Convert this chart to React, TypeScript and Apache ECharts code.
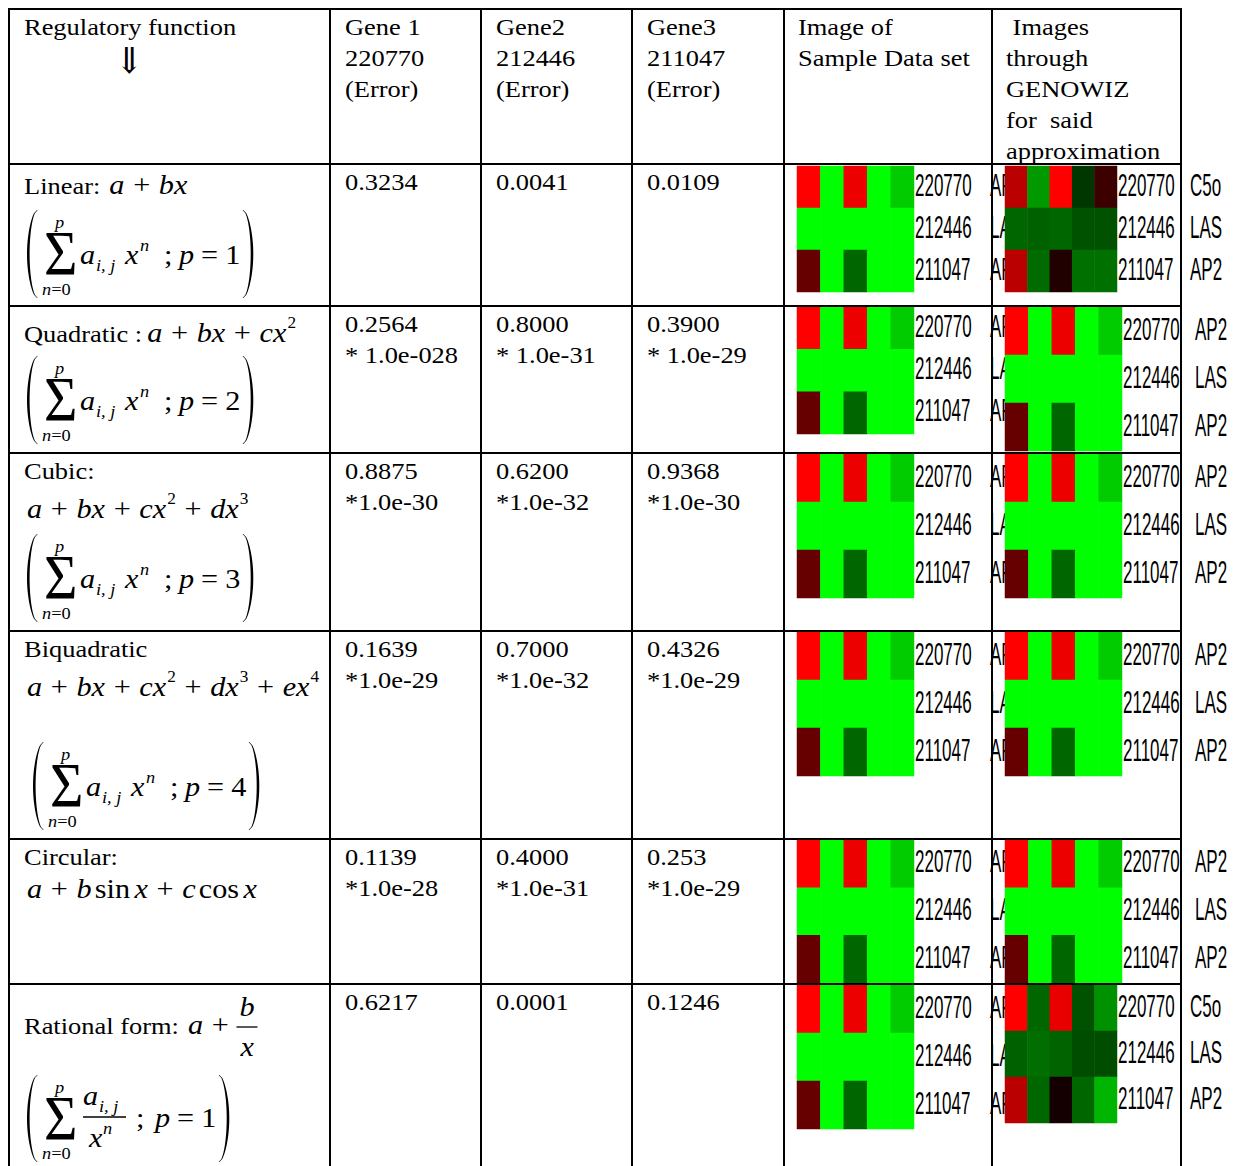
import React, { useEffect, useRef } from "react";
import * as echarts from "echarts";

// ---------------- data ----------------
const sampleLabels = ["s1", "s2", "s3", "s4", "s5"];
const geneIds = ["220770", "212446", "211047"];
const geneNames = ["AP2", "LAS", "AP2"];
const geneNamesDiffer = ["C5o", "LAS", "AP2"];

const headerFunction = "Regulatory function";
const headerGene1 = ["Gene 1", "220770", "(Error)"];
const headerGene2 = ["Gene2", "212446", "(Error)"];
const headerGene3 = ["Gene3", "211047", "(Error)"];
const headerSample = ["Image of", "Sample Data set"];
const headerGenowiz = [" Images", "through", "GENOWIZ", "for  said", "approximation"];

const functionNames = ["Linear:", "Quadratic :", "Cubic:", "Biquadratic", "Circular:", "Rational form:"];
const polyDegree = [1, 2, 3, 4];

const gene1Error = ["0.3234", "0.2564", "0.8875", "0.1639", "0.1139", "0.6217"];
const gene1Scale = ["", "* 1.0e-028", "*1.0e-30", "*1.0e-29", "*1.0e-28", ""];
const gene2Error = ["0.0041", "0.8000", "0.6200", "0.7000", "0.4000", "0.0001"];
const gene2Scale = ["", "* 1.0e-31", "*1.0e-32", "*1.0e-32", "*1.0e-31", ""];
const gene3Error = ["0.0109", "0.3900", "0.9368", "0.4326", "0.253", "0.1246"];
const gene3Scale = ["", "* 1.0e-29", "*1.0e-30", "*1.0e-29", "*1.0e-29", ""];

// expression levels: +1 = full red, 0 = black, -1 = full green
const sampleExpr = [
  [1.0, -1.0, 0.93, -1.0, -0.8],
  [-1.0, -1.0, -1.0, -1.0, -1.0],
  [0.4, -1.0, -0.4, -1.0, -1.0],
];
const genowizLinear = [
  [0.73, -0.6, 1.0, -0.21, 0.24],
  [-0.4, -0.38, -0.4, -0.32, -0.32],
  [0.73, -0.42, 0.13, -0.44, -0.44],
];
const genowizQuadratic = [
  [1.0, -1.0, 0.93, -1.0, -0.8],
  [-1.0, -1.0, -1.0, -1.0, -1.0],
  [0.4, -1.0, -0.4, -1.0, -1.0],
];
const genowizCubic = [
  [1.0, -1.0, 0.93, -1.0, -0.8],
  [-1.0, -1.0, -1.0, -1.0, -1.0],
  [0.4, -1.0, -0.4, -1.0, -1.0],
];
const genowizBiquadratic = [
  [1.0, -1.0, 0.93, -1.0, -0.8],
  [-1.0, -1.0, -1.0, -1.0, -1.0],
  [0.4, -1.0, -0.4, -1.0, -1.0],
];
const genowizCircular = [
  [1.0, -1.0, 0.93, -1.0, -0.8],
  [-1.0, -1.0, -1.0, -1.0, -1.0],
  [0.4, -1.0, -0.4, -1.0, -1.0],
];
const genowizRational = [
  [1.0, -0.4, 0.91, -0.32, -0.57],
  [-0.38, -0.43, -0.39, -0.3, -0.3],
  [0.73, -0.4, 0.08, -0.4, -0.71],
];
const genowizImages = [genowizLinear, genowizQuadratic, genowizCubic, genowizBiquadratic, genowizCircular, genowizRational];
const genowizNames = [geneNamesDiffer, geneNames, geneNames, geneNames, geneNames, geneNamesDiffer];

// ---------------- layout ----------------
const COL_X = [9, 330, 481, 632, 784, 992, 1181];
const ROW_Y = [9, 164, 306, 453, 631, 839, 984];
const TEXT_X = [24, 345, 496, 647, 798, 1006];
const SAMPLE_BOX = [
  [797, 166, 117, 126],
  [797, 307, 117, 127],
  [797, 454, 117, 144],
  [797, 632, 117, 144],
  [797, 840, 117, 143],
  [797, 985, 117, 144],
];
const GENOWIZ_BOX = [
  [1005, 166, 112, 126],
  [1005, 307, 117, 144],
  [1005, 454, 117, 144],
  [1005, 632, 117, 144],
  [1005, 840, 117, 143],
  [1005, 985, 112, 138],
];

const FS = 23; // body font size
const SX = 1.15; // body text horizontal stretch
const MX = 1.08; // math horizontal stretch
const MS = 28; // math font size
const SERIF = '"Liberation Serif", "Times New Roman", "DejaVu Serif", serif';
const LABEL_FONT = '"Liberation Sans", Arial, sans-serif';

let mctx: CanvasRenderingContext2D | null = null;
function tw(t: string, size: number, italic = false, family = SERIF) {
  if (!mctx) mctx = document.createElement("canvas").getContext("2d");
  mctx!.font = `${italic ? "italic " : ""}${size}px ${family}`;
  return mctx!.measureText(t).width;
}

type Tok = { t: string; k: "i" | "r" | "op" | "sup" | "sp" };
const I = (t: string): Tok => ({ t, k: "i" });
const R = (t: string): Tok => ({ t, k: "r" });
const OP = (t: string): Tok => ({ t, k: "op" });
const SUP = (t: string): Tok => ({ t, k: "sup" });
const SP = (t: string): Tok => ({ t, k: "sp" });

function buildGraphics() {
  const els: any[] = [];
  const T = (x: number, B: number, t: string, size = FS, italic = false, opt: any = {}) => {
    const sx = opt.sx ?? SX;
    const sy = opt.sy ?? 1;
    const fam = opt.family ?? SERIF;
    els.push({
      type: "text",
      x,
      y: B - 0.3375 * size * sy,
      scaleX: sx,
      scaleY: sy,
      z: opt.z ?? 5,
      silent: true,
      style: {
        text: t,
        fontFamily: fam,
        fontSize: size,
        fontStyle: italic ? "italic" : "normal",
        fill: "#000",
        align: opt.align ?? "left",
        verticalAlign: "middle",
      },
    });
    return tw(t, size, italic, fam) * sx;
  };
  const M = (x: number, B: number, t: string, size = MS, italic = true) => T(x, B, t, size, italic, { sx: MX });
  // plain text with preserved spaces
  const P = (x: number, B: number, line: string, size = FS) => {
    let cx = x;
    const sp = tw(" ", size) * SX;
    const parts = line.split(" ");
    parts.forEach((w, idx) => {
      if (w.length) cx += T(cx, B, w, size);
      if (idx < parts.length - 1) cx += sp;
    });
    return cx - x;
  };
  const flow = (x: number, B: number, toks: Tok[]) => {
    let cx = x;
    for (const tk of toks) {
      if (tk.k === "i") cx += M(cx, B, tk.t);
      else if (tk.k === "r") cx += M(cx, B, tk.t, MS, false);
      else if (tk.k === "op") {
        cx += 8 * MX;
        cx += M(cx, B, tk.t, MS, false);
        cx += 8 * MX;
      } else if (tk.k === "sup") {
        cx += 1;
        cx += M(cx, B - 14, tk.t, 16, false);
      } else if (tk.k === "sp") cx += Number(tk.t) * MX;
    }
    return cx;
  };
  const paren = (xEdge: number, top: number, bottom: number, depth: number, left: boolean) => {
    const outer: number[][] = [];
    const inner: number[][] = [];
    const N = 28;
    for (let i = 0; i <= N; i++) {
      const t = i / N;
      const y = top + (bottom - top) * t;
      const b = Math.pow(Math.sin(Math.PI * t), 0.55);
      const th = 0.7 + 1.9 * Math.sin(Math.PI * t);
      const ox = left ? xEdge - depth * b : xEdge + depth * b;
      outer.push([ox, y]);
      inner.push([left ? ox + th : ox - th, y]);
    }
    els.push({
      type: "polygon",
      z: 5,
      silent: true,
      shape: { points: outer.concat(inner.reverse()) },
      style: { fill: "#000" },
    });
  };
  const hline = (x1: number, x2: number, y: number, w = 1.3) =>
    els.push({ type: "line", z: 5, silent: true, shape: { x1, y1: y, x2, y2: y }, style: { stroke: "#000", lineWidth: w } });

  const sigma = (x0: number, B: number) => {
    T(x0 + 17, B, "Σ", 46, false, { sx: 1.25, sy: 1.4 });
  };
  const limits = (x0: number, Bp: number, Bn: number) => {
    M(x0 + 28, Bp, "p", 17);
    let nx = x0 + 15;
    nx += M(nx, Bn, "n", 17);
    M(nx, Bn, "=0", 17, false);
  };
  const pEq = (x: number, B: number, p: number) => {
    let px = x;
    px += M(px, B, "p");
    px += 7;
    px += M(px, B, "=", MS, false);
    px += 7;
    px += M(px, B, String(p), MS, false);
    return px;
  };
  const sumPoly = (x0: number, B: number, p: number) => {
    paren(x0 + 10, B - 54, B + 34, 10, true);
    sigma(x0, B + 11);
    limits(x0, B - 36, B + 31);
    M(x0 + 53, B, "a");
    M(x0 + 69, B + 7, "i, j", 17);
    M(x0 + 98, B, "x");
    M(x0 + 113, B - 13, "n", 17);
    M(x0 + 137, B, ";", MS, false);
    const px = pEq(x0 + 152, B, p);
    paren(px + 3, B - 54, B + 34, 10, false);
  };
  const sumRational = (x0: number, B: number, p: number) => {
    paren(x0 + 10, B - 52, B + 35, 10, true);
    sigma(x0, B + 13);
    limits(x0, B - 34, B + 32);
    M(x0 + 56, B - 22, "a");
    M(x0 + 72, B - 15, "i, j", 17);
    hline(x0 + 56, x0 + 99, B - 10);
    M(x0 + 62, B + 20, "x");
    M(x0 + 76, B + 7, "n", 17);
    M(x0 + 109, B, ";", MS, false);
    const px = pEq(x0 + 128, B, p);
    paren(px + 3, B - 52, B + 35, 10, false);
  };

  // ---- table grid ----
  COL_X.forEach((x) =>
    els.push({ type: "line", z: 10, silent: true, shape: { x1: x, y1: 8, x2: x, y2: 1170 }, style: { stroke: "#000", lineWidth: 2 } })
  );
  ROW_Y.forEach((y) =>
    els.push({ type: "line", z: 10, silent: true, shape: { x1: 8, y1: y, x2: 1182, y2: y }, style: { stroke: "#000", lineWidth: 2 } })
  );

  // ---- header ----
  const hb = (k: number) => ROW_Y[0] + 25.5 + 31 * k;
  T(TEXT_X[0], hb(0), headerFunction);
  els.push({
    type: "text",
    x: 129,
    y: 61,
    z: 5,
    silent: true,
    scaleX: 0.95,
    style: { text: "⇓", fontFamily: SERIF, fontSize: 36, fill: "#000", align: "center", verticalAlign: "middle" },
  });
  [headerGene1, headerGene2, headerGene3, headerSample, headerGenowiz].forEach((lines, c) =>
    lines.forEach((ln, k) => P(TEXT_X[c + 1], hb(k), ln))
  );

  // ---- error values ----
  [
    [gene1Error, gene1Scale],
    [gene2Error, gene2Scale],
    [gene3Error, gene3Scale],
  ].forEach(([errs, scales], c) => {
    errs.forEach((v, r) => {
      const B = ROW_Y[r + 1] + 25.5;
      P(TEXT_X[c + 1], B, v);
      if (scales[r]) P(TEXT_X[c + 1], B + 31, scales[r]);
    });
  });

  // ---- regulatory functions ----
  const fx = 24;
  // linear
  let e = T(fx, 193.5, functionNames[0]);
  flow(fx + e + 9, 193.5, [I("a"), OP("+"), I("bx")]);
  sumPoly(27, 264, polyDegree[0]);
  // quadratic
  e = T(fx, 342, functionNames[1]);
  flow(fx + e + 5, 342, [I("a"), OP("+"), I("bx"), OP("+"), I("cx"), SUP("2")]);
  sumPoly(27, 410, polyDegree[1]);
  // cubic
  T(fx, 478.5, functionNames[2]);
  flow(27, 518, [I("a"), OP("+"), I("bx"), OP("+"), I("cx"), SUP("2"), OP("+"), I("dx"), SUP("3")]);
  sumPoly(27, 588, polyDegree[2]);
  // biquadratic
  T(fx, 656.5, functionNames[3]);
  flow(27, 696, [I("a"), OP("+"), I("bx"), OP("+"), I("cx"), SUP("2"), OP("+"), I("dx"), SUP("3"), OP("+"), I("ex"), SUP("4")]);
  sumPoly(33, 796, polyDegree[3]);
  // circular
  T(fx, 864.5, functionNames[4]);
  flow(27, 898, [I("a"), OP("+"), I("b"), SP("3"), R("sin"), SP("4"), I("x"), OP("+"), I("c"), SP("3"), R("cos"), SP("4"), I("x")]);
  // rational
  e = T(fx, 1034, functionNames[5]);
  const rx = flow(fx + e + 9, 1034, [I("a"), OP("+")]);
  hline(rx - 1, rx + 20, 1027);
  M(rx + 2, 1016, "b");
  M(rx + 3, 1056, "x");
  sumRational(27, 1127, polyDegree[0]);

  // ---- heatmap labels ----
  const lab = (x: number, yc: number, t: string, z = 5) =>
    els.push({
      type: "text",
      x,
      y: yc,
      z,
      silent: true,
      scaleY: 1.8,
      style: { text: t, fontFamily: LABEL_FONT, fontSize: 17, fill: "#000", align: "left", verticalAlign: "middle" },
    });
  SAMPLE_BOX.forEach(([x, y, w, h]) => {
    geneIds.forEach((g, i) => {
      const yc = y + (h * (i + 0.5)) / 3 - 2;
      lab(x + w + 1, yc, g);
      lab(x + w + 76, yc, geneNames[i], 0); // hidden under the GENOWIZ image
    });
  });
  GENOWIZ_BOX.forEach(([x, y, w, h], r) => {
    geneIds.forEach((g, i) => {
      const yc = y + (h * (i + 0.5)) / 3 - 2;
      lab(x + w + 1, yc, g);
      lab(x + w + 73, yc, genowizNames[r][i]);
    });
  });
  return els;
}

function toCells(m: number[][]) {
  const out: number[][] = [];
  m.forEach((row, gi) => row.forEach((v, si) => out.push([si, gi, v])));
  return out;
}

function buildOption() {
  const boxes = SAMPLE_BOX.map((b) => ({ box: b, data: sampleExpr })).concat(
    GENOWIZ_BOX.map((b, r) => ({ box: b, data: genowizImages[r] }))
  );
  const grid: any[] = [];
  const xAxis: any[] = [];
  const yAxis: any[] = [];
  const series: any[] = [];
  boxes.forEach(({ box, data }, i) => {
    grid.push({ left: box[0], top: box[1], width: box[2], height: box[3], show: false });
    xAxis.push({ type: "category", gridIndex: i, data: sampleLabels, show: false });
    yAxis.push({ type: "category", gridIndex: i, data: geneIds, inverse: true, show: false });
    series.push({
      type: "heatmap",
      xAxisIndex: i,
      yAxisIndex: i,
      data: toCells(data),
      itemStyle: { borderWidth: 0 },
      emphasis: { disabled: true },
    });
  });
  return {
    animation: false,
    backgroundColor: "#fff",
    grid,
    xAxis,
    yAxis,
    visualMap: {
      type: "continuous",
      show: false,
      min: -1,
      max: 1,
      seriesIndex: series.map((_, i) => i),
      inRange: { color: ["#00ff00", "#000000", "#ff0000"] },
    },
    series,
    graphic: { elements: buildGraphics() },
  };
}

export default function App() {
  const ref = useRef<HTMLDivElement>(null);
  useEffect(() => {
    const chart = echarts.init(ref.current!, null, { renderer: "svg" });
    chart.setOption(buildOption() as any);
    return () => chart.dispose();
  }, []);
  return (
    <div
      ref={ref}
      style={{ position: "absolute", left: 0, top: 0, width: 1239, height: 1166, background: "#fff" }}
    />
  );
}
